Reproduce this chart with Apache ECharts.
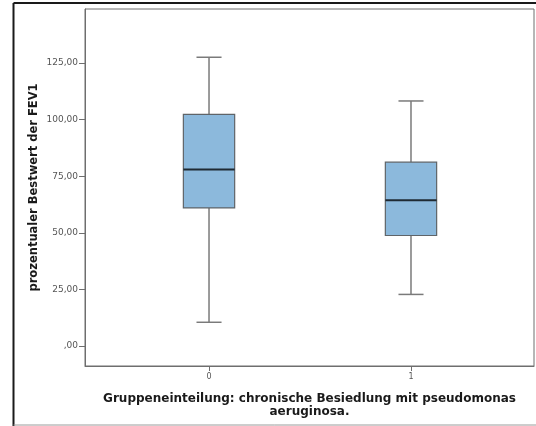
<!DOCTYPE html>
<html>
<head>
<meta charset="utf-8">
<style>
  html, body { margin: 0; padding: 0; background: #fff; }
  #chart { width: 536px; height: 426px; }
</style>
<script src="https://cdn.jsdelivr.net/npm/echarts@6/dist/echarts.min.js"></script>
</head>
<body>
<div id="chart"></div>
<script>
// Group codes on the x axis and five-number summaries per group
const groups = [0, 1];
const lowerWhisker = [10.5, 22.8];
const q1 = [61.0, 48.8];
const median = [78.0, 64.4];
const q3 = [102.3, 81.2];
const upperWhisker = [127.5, 108.2];

// Axis ticks and their printed labels
const yTickValues = [0, 25, 50, 75, 100, 125];
const yTickLabels = [',00', '25,00', '50,00', '75,00', '100,00', '125,00'];
const xTickValues = [0, 1];
const xTickLabels = ['0', '1'];

const yTitle = 'prozentualer Bestwert der FEV1';
const xTitle = 'Gruppeneinteilung: chronische Besiedlung mit pseudomonas\naeruginosa.';

const boxData = groups.map((g, i) => [g, lowerWhisker[i], q1[i], median[i], q3[i], upperWhisker[i]]);

const BOX_WIDTH = 0.254;   // in x-axis units
const CAP_WIDTH = 0.124;

function renderBox(params, api) {
  const x = api.value(0);
  const lo = api.coord([x, api.value(1)]);
  const b1 = api.coord([x, api.value(2)]);
  const md = api.coord([x, api.value(3)]);
  const b3 = api.coord([x, api.value(4)]);
  const hi = api.coord([x, api.value(5)]);
  const halfBox = api.size([BOX_WIDTH, 0])[0] / 2;
  const halfCap = api.size([CAP_WIDTH, 0])[0] / 2;
  const cx = lo[0];
  const whiskerStyle = { stroke: '#7a7a7a', lineWidth: 1.5 };
  return {
    type: 'group',
    children: [
      { type: 'line', shape: { x1: cx, y1: hi[1], x2: cx, y2: b3[1] }, style: whiskerStyle },
      { type: 'line', shape: { x1: cx, y1: b1[1], x2: cx, y2: lo[1] }, style: whiskerStyle },
      { type: 'line', shape: { x1: cx - halfCap, y1: hi[1], x2: cx + halfCap, y2: hi[1] }, style: whiskerStyle },
      { type: 'line', shape: { x1: cx - halfCap, y1: lo[1], x2: cx + halfCap, y2: lo[1] }, style: whiskerStyle },
      {
        type: 'rect',
        shape: { x: cx - halfBox, y: b3[1], width: halfBox * 2, height: b1[1] - b3[1] },
        style: { fill: '#8cb9dc', stroke: '#5f6468', lineWidth: 1.2 }
      },
      { type: 'line', shape: { x1: cx - halfBox, y1: md[1], x2: cx + halfBox, y2: md[1] }, style: { stroke: '#1f2a33', lineWidth: 2 } }
    ]
  };
}

const chart = echarts.init(document.getElementById('chart'), null, { renderer: 'canvas' });
chart.setOption({
  animation: false,
  backgroundColor: '#fff',
  textStyle: { fontFamily: 'DejaVu Sans' },
  grid: {
    left: 85, right: 2, top: 9, bottom: 60,
    show: true, borderColor: '#6e6e6e', borderWidth: 1, backgroundColor: '#fff'
  },
  graphic: [
    { type: 'line', shape: { x1: 13.5, y1: 3, x2: 536, y2: 3 }, style: { stroke: '#1a1a1a', lineWidth: 2 } },
    { type: 'line', shape: { x1: 13.5, y1: 3, x2: 13.5, y2: 426 }, style: { stroke: '#1a1a1a', lineWidth: 2 } },
    { type: 'line', shape: { x1: 13.5, y1: 425, x2: 536, y2: 425 }, style: { stroke: '#9a9a9a', lineWidth: 1 } }
  ],
  xAxis: {
    type: 'value',
    min: -0.614,
    max: 1.609,
    name: xTitle,
    nameLocation: 'middle',
    nameGap: 26,
    nameMoveOverlap: false,
    nameTextStyle: { fontFamily: 'DejaVu Sans', fontWeight: 'bold', fontSize: 12, color: '#1a1a1a', lineHeight: 13 },
    axisLine: { show: true, onZero: false, lineStyle: { color: '#6e6e6e' } },
    axisTick: { show: true, length: 5, customValues: xTickValues, lineStyle: { color: '#6e6e6e' } },
    axisLabel: {
      customValues: xTickValues,
      margin: 7,
      fontSize: 8,
      color: '#555',
      formatter: v => xTickLabels[xTickValues.indexOf(Math.round(v))]
    },
    splitLine: { show: false }
  },
  yAxis: {
    type: 'value',
    min: -8.8,
    max: 148.8,
    name: yTitle,
    nameLocation: 'middle',
    nameRotate: 90,
    nameGap: 45,
    nameMoveOverlap: false,
    nameTextStyle: { fontFamily: 'DejaVu Sans', fontWeight: 'bold', fontSize: 11.5, color: '#1a1a1a' },
    axisLine: { show: true, onZero: false, lineStyle: { color: '#6e6e6e' } },
    axisTick: { show: true, length: 6, customValues: yTickValues, lineStyle: { color: '#6e6e6e' } },
    axisLabel: {
      customValues: yTickValues,
      margin: 7,
      fontSize: 9,
      color: '#555',
      formatter: v => yTickLabels[yTickValues.indexOf(Math.round(v))]
    },
    splitLine: { show: false }
  },
  series: [{
    type: 'custom',
    renderItem: renderBox,
    encode: { x: 0, y: [1, 2, 3, 4, 5] },
    data: boxData
  }]
});
</script>
</body>
</html>
